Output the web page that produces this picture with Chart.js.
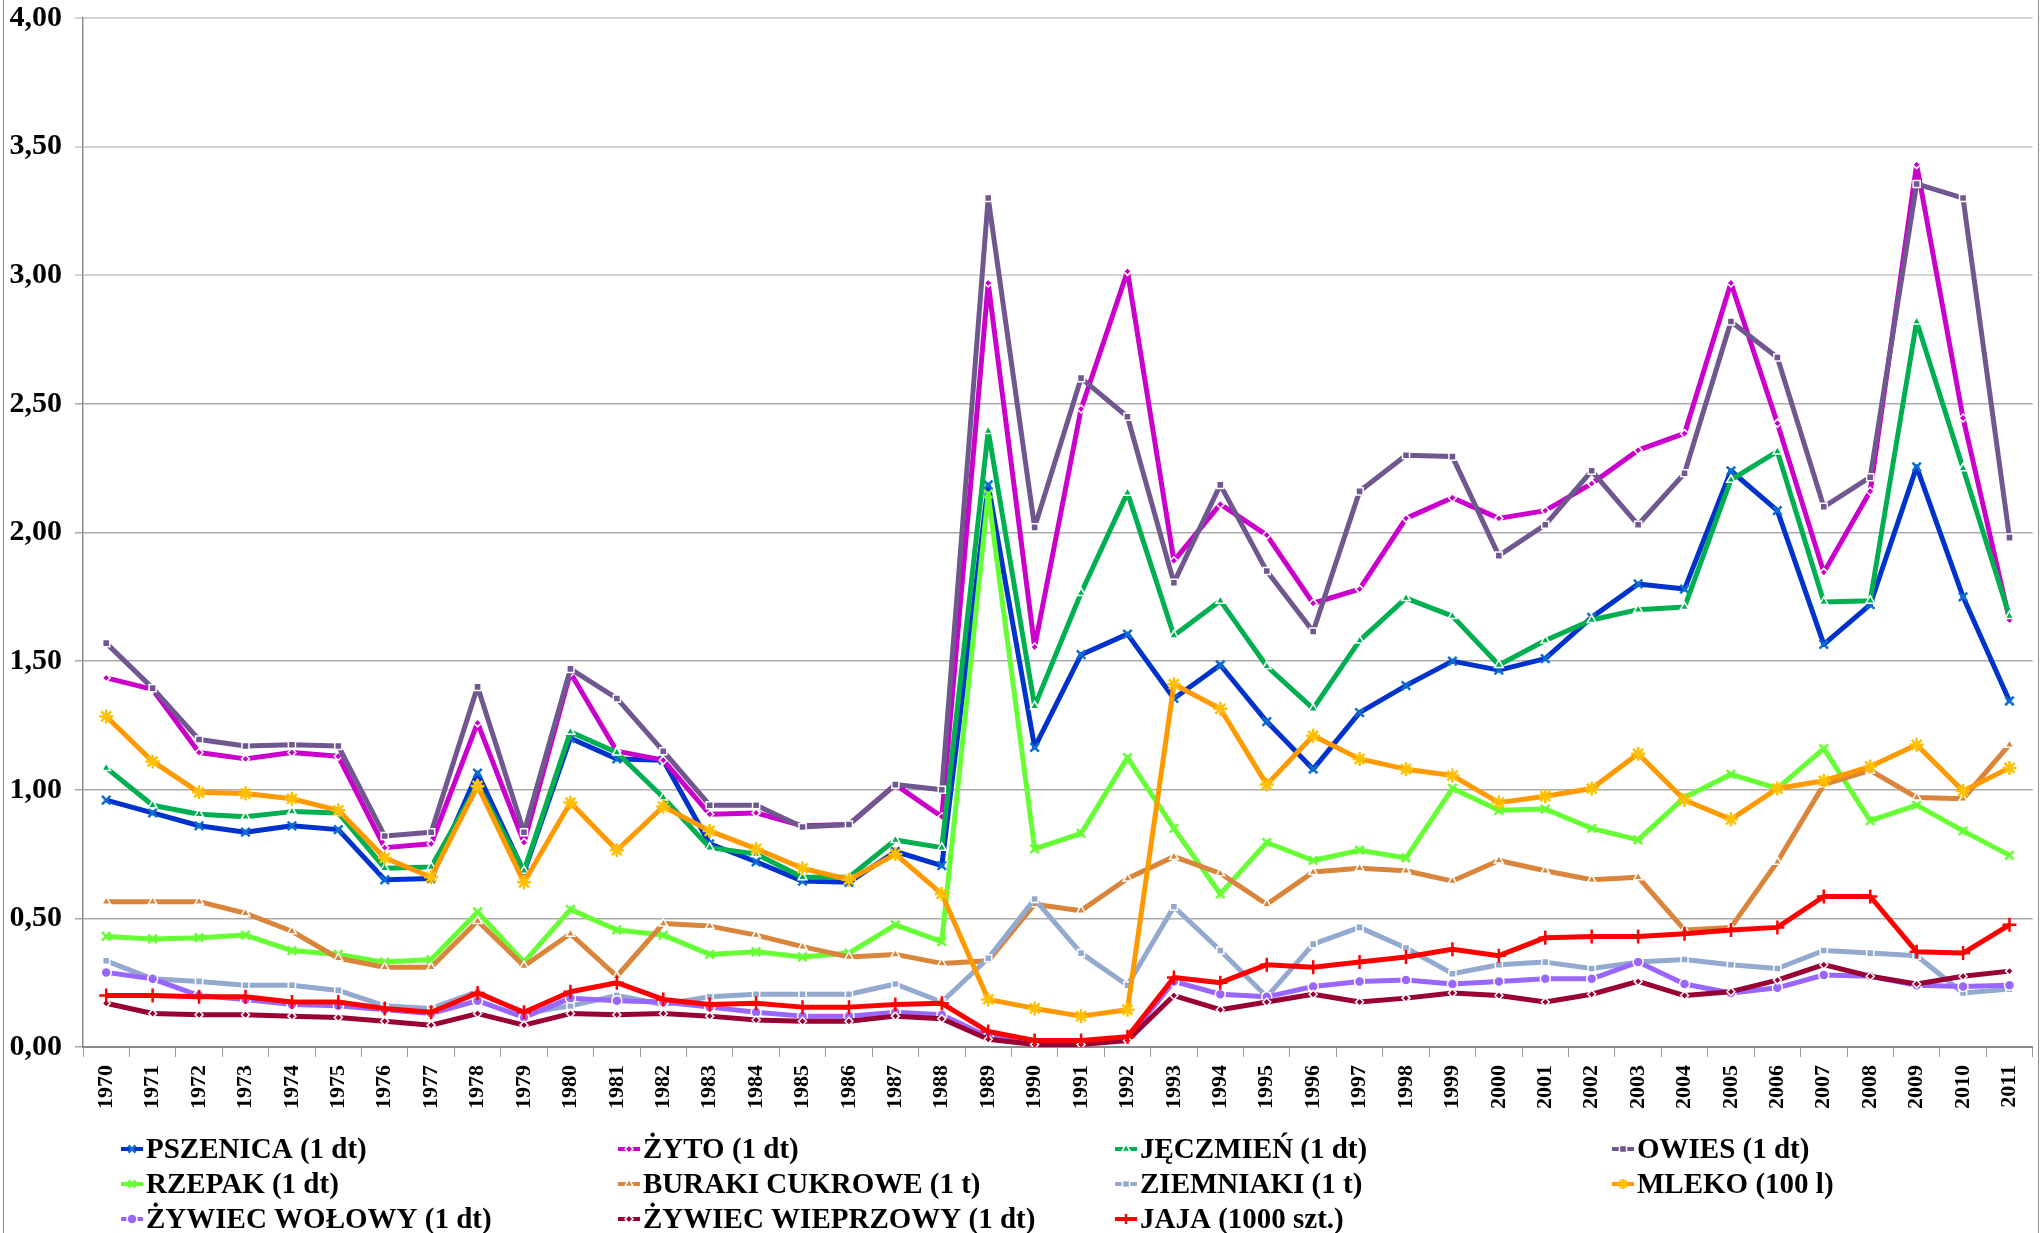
<!DOCTYPE html>
<html>
<head>
<meta charset="utf-8">
<script src="https://cdn.jsdelivr.net/npm/chart.js@4"></script>
<style>
  html, body { margin: 0; padding: 0; background: #fff; }
  #wrap { position: relative; width: 2044px; height: 1233px; }
  #frame { position: absolute; left: 3px; top: 0; width: 2036px; height: 1233px;
           border-left: 1px solid #8c8c8c; border-right: 1px solid #8c8c8c; box-sizing: border-box; pointer-events: none; }
</style>
</head>
<body>
<div id="wrap">
  <canvas id="priceChart" width="2044" height="1233"></canvas>
  <div id="frame"></div>
</div>
<script>
const years = ['1970','1971','1972','1973','1974','1975','1976','1977','1978','1979',
  '1980','1981','1982','1983','1984','1985','1986','1987','1988','1989',
  '1990','1991','1992','1993','1994','1995','1996','1997','1998','1999',
  '2000','2001','2002','2003','2004','2005','2006','2007','2008','2009',
  '2010','2011'];

const pszenica = [0.96, 0.91, 0.86, 0.835, 0.86, 0.845, 0.65, 0.655, 1.065, 0.68,
  1.20, 1.12, 1.115, 0.79, 0.72, 0.645, 0.64, 0.76, 0.705, 2.185,
  1.165, 1.525, 1.605, 1.355, 1.485, 1.265, 1.08, 1.30, 1.405, 1.50,
  1.465, 1.51, 1.67, 1.80, 1.78, 2.24, 2.085, 1.565, 1.72, 2.255,
  1.75, 1.345];
const zyto = [1.435, 1.39, 1.145, 1.12, 1.145, 1.13, 0.775, 0.79, 1.26, 0.795,
  1.455, 1.15, 1.115, 0.905, 0.91, 0.86, 0.865, 1.02, 0.895, 2.97,
  1.555, 2.48, 3.015, 1.89, 2.11, 1.99, 1.725, 1.78, 2.055, 2.135,
  2.055, 2.085, 2.19, 2.32, 2.385, 2.97, 2.425, 1.845, 2.16, 3.43,
  2.445, 1.66];
const jeczmien = [1.085, 0.94, 0.905, 0.895, 0.915, 0.91, 0.695, 0.70, 1.02, 0.685,
  1.225, 1.145, 0.97, 0.775, 0.75, 0.66, 0.66, 0.805, 0.775, 2.395,
  1.325, 1.765, 2.155, 1.60, 1.735, 1.48, 1.315, 1.58, 1.745, 1.675,
  1.485, 1.58, 1.66, 1.70, 1.71, 2.205, 2.315, 1.73, 1.735, 2.82,
  2.25, 1.675];
const owies = [1.57, 1.395, 1.195, 1.17, 1.175, 1.17, 0.82, 0.835, 1.40, 0.835,
  1.47, 1.355, 1.15, 0.94, 0.94, 0.855, 0.865, 1.02, 1.00, 3.30,
  2.02, 2.60, 2.45, 1.805, 2.185, 1.85, 1.615, 2.16, 2.30, 2.295,
  1.91, 2.03, 2.24, 2.03, 2.23, 2.82, 2.68, 2.10, 2.215, 3.355,
  3.30, 1.98];
const rzepak = [0.43, 0.42, 0.425, 0.435, 0.375, 0.36, 0.33, 0.34, 0.525, 0.33,
  0.535, 0.455, 0.435, 0.36, 0.37, 0.35, 0.365, 0.475, 0.41, 2.15,
  0.77, 0.83, 1.125, 0.85, 0.595, 0.795, 0.725, 0.765, 0.735, 1.005,
  0.92, 0.925, 0.85, 0.805, 0.97, 1.06, 1.005, 1.16, 0.88, 0.94,
  0.84, 0.745];
const buraki = [0.565, 0.565, 0.565, 0.52, 0.45, 0.345, 0.31, 0.31, 0.49, 0.315,
  0.44, 0.275, 0.48, 0.47, 0.435, 0.39, 0.35, 0.36, 0.325, 0.335,
  0.555, 0.53, 0.655, 0.74, 0.675, 0.555, 0.68, 0.695, 0.685, 0.645,
  0.725, 0.685, 0.65, 0.66, 0.455, 0.465, 0.72, 1.02, 1.075, 0.97,
  0.965, 1.175];
const ziemniaki = [0.335, 0.265, 0.255, 0.24, 0.24, 0.22, 0.16, 0.15, 0.215, 0.13,
  0.16, 0.20, 0.165, 0.195, 0.205, 0.205, 0.205, 0.245, 0.175, 0.345,
  0.575, 0.365, 0.24, 0.545, 0.375, 0.195, 0.40, 0.465, 0.385, 0.285,
  0.32, 0.33, 0.305, 0.33, 0.34, 0.32, 0.305, 0.375, 0.365, 0.355,
  0.21, 0.225];
const mleko = [1.285, 1.11, 0.99, 0.985, 0.965, 0.92, 0.735, 0.66, 1.015, 0.64,
  0.95, 0.765, 0.935, 0.84, 0.77, 0.695, 0.65, 0.75, 0.595, 0.185,
  0.15, 0.12, 0.145, 1.41, 1.315, 1.02, 1.21, 1.12, 1.08, 1.055,
  0.95, 0.975, 1.005, 1.14, 0.96, 0.885, 1.005, 1.035, 1.09, 1.175,
  0.995, 1.085];
const zywiecWolowy = [0.29, 0.265, 0.20, 0.185, 0.165, 0.16, 0.145, 0.13, 0.18, 0.115,
  0.19, 0.18, 0.175, 0.155, 0.135, 0.12, 0.12, 0.135, 0.125, 0.04,
  0.02, 0.02, 0.03, 0.255, 0.205, 0.195, 0.235, 0.255, 0.26, 0.245,
  0.255, 0.265, 0.265, 0.33, 0.245, 0.21, 0.23, 0.28, 0.275, 0.24,
  0.235, 0.24];
const zywiecWieprzowy = [0.17, 0.13, 0.125, 0.125, 0.12, 0.115, 0.10, 0.085, 0.13, 0.085,
  0.13, 0.125, 0.13, 0.12, 0.105, 0.10, 0.10, 0.12, 0.11, 0.03,
  0.01, 0.01, 0.025, 0.20, 0.145, 0.175, 0.205, 0.175, 0.19, 0.21,
  0.20, 0.175, 0.205, 0.255, 0.20, 0.215, 0.26, 0.32, 0.275, 0.245,
  0.275, 0.295];
const jaja = [0.20, 0.20, 0.195, 0.195, 0.175, 0.175, 0.15, 0.135, 0.21, 0.135,
  0.215, 0.25, 0.185, 0.165, 0.17, 0.155, 0.155, 0.165, 0.17, 0.06,
  0.025, 0.025, 0.04, 0.27, 0.25, 0.32, 0.31, 0.33, 0.35, 0.38,
  0.355, 0.425, 0.43, 0.43, 0.44, 0.455, 0.465, 0.585, 0.585, 0.37,
  0.365, 0.475];

const FONT = '"Liberation Serif", "DejaVu Serif", serif';

// label, data, line colour, marker colour, marker style, radius, filled?
const seriesDefs = [
  ['PSZENICA (1 dt)', pszenica, '#0033cc', '#0a6fd0', 'crossRot', 6, false],
  ['ŻYTO (1 dt)', zyto, '#cc00cc', '#cc00cc', 'rectRot', 4, true],
  ['JĘCZMIEŃ (1 dt)', jeczmien, '#00b050', '#00b050', 'triangle', 5, true],
  ['OWIES (1 dt)', owies, '#70578f', '#70578f', 'rect', 5, true],
  ['RZEPAK (1 dt)', rzepak, '#66ff33', '#66ff33', 'crossRot', 6, false],
  ['BURAKI CUKROWE (1 t)', buraki, '#d9853b', '#d9853b', 'triangle', 5, true],
  ['ZIEMNIAKI (1 t)', ziemniaki, '#93a9cf', '#93a9cf', 'rect', 5, true],
  ['MLEKO (100 l)', mleko, '#ff9900', '#ffc000', 'star', 7, false],
  ['ŻYWIEC WOŁOWY (1 dt)', zywiecWolowy, '#9966ff', '#9966ff', 'circle', 5, true],
  ['ŻYWIEC WIEPRZOWY (1 dt)', zywiecWieprzowy, '#990033', '#990033', 'rectRot', 4, true],
  ['JAJA (1000 szt.)', jaja, '#ff0000', '#ff0000', 'cross', 7, false]
];

const datasets = seriesDefs.map((s, i) => ({
  label: s[0],
  data: s[1],
  borderColor: s[2],
  backgroundColor: s[2],
  borderWidth: 5,
  borderJoinStyle: 'round',
  tension: 0,
  fill: false,
  pointStyle: s[4],
  pointRadius: s[5],
  pointBackgroundColor: s[3],
  pointBorderColor: s[6] ? '#ffffff' : s[3],
  pointBorderWidth: s[6] ? 1.5 : 2.5,
  order: seriesDefs.length - i
}));

// legend laid out in four columns like the original
const columnLegend = {
  id: 'columnLegend',
  afterDraw(chart) {
    const c = chart.ctx;
    chart.data.datasets.forEach((ds, i) => {
      const x = 121 + (i % 4) * 497;
      const y = 1149 + Math.floor(i / 4) * 35;
      c.save();
      c.strokeStyle = ds.borderColor;
      c.lineWidth = 4;
      c.beginPath();
      c.moveTo(x, y);
      c.lineTo(x + 22, y);
      c.stroke();
      c.fillStyle = ds.pointBackgroundColor;
      c.strokeStyle = ds.pointBorderColor;
      c.lineWidth = ds.pointBorderWidth;
      Chart.helpers.drawPoint(c, {
        pointStyle: ds.pointStyle,
        radius: Math.min(ds.pointRadius, 5),
        borderWidth: ds.pointBorderWidth,
        rotation: 0
      }, x + 11, y);
      c.fillStyle = '#000';
      c.font = 'bold 29px ' + FONT;
      c.textBaseline = 'middle';
      c.fillText(ds.label, x + 25, y + 2);
      c.restore();
    });
  }
};

const ctx = document.getElementById('priceChart').getContext('2d');
const chart = new Chart(ctx, {
  type: 'line',
  data: { labels: years, datasets: datasets },
  plugins: [columnLegend],
  options: {
    responsive: false,
    animation: false,
    devicePixelRatio: 1,
    layout: { padding: { top: 18, right: 10, bottom: 113, left: 0 } },
    plugins: {
      legend: { display: false },
      tooltip: { enabled: false }
    },
    scales: {
      x: {
        offset: true,
        grid: { offset: true, drawOnChartArea: false, tickLength: 10, color: '#9a9a9a' },
        border: { color: '#8c8c8c', width: 2 },
        ticks: {
          autoSkip: false,
          minRotation: 90,
          maxRotation: 90,
          padding: 8,
          color: '#000',
          font: { family: FONT, size: 22, weight: 'bold' }
        },
        afterFit: function(scale) { scale.height = 73; }
      },
      y: {
        min: 0,
        max: 4,
        grid: {
          color: function(c) { return c.tick && c.tick.value >= 3 ? '#d4d4d4' : '#ababab'; },
          lineWidth: function(c) { return c.tick && c.tick.value >= 3 ? 2 : 1.5; },
          tickLength: 8
        },
        border: { color: '#8c8c8c', width: 1.5 },
        ticks: {
          stepSize: 0.5,
          padding: 13,
          color: '#000',
          font: { family: FONT, size: 30, weight: 'bold', lineHeight: 0.3 },
          callback: function(value) { return value.toFixed(2).replace('.', ','); }
        },
        afterFit: function(scale) { scale.width = 83; }
      }
    }
  }
});
</script>
</body>
</html>
